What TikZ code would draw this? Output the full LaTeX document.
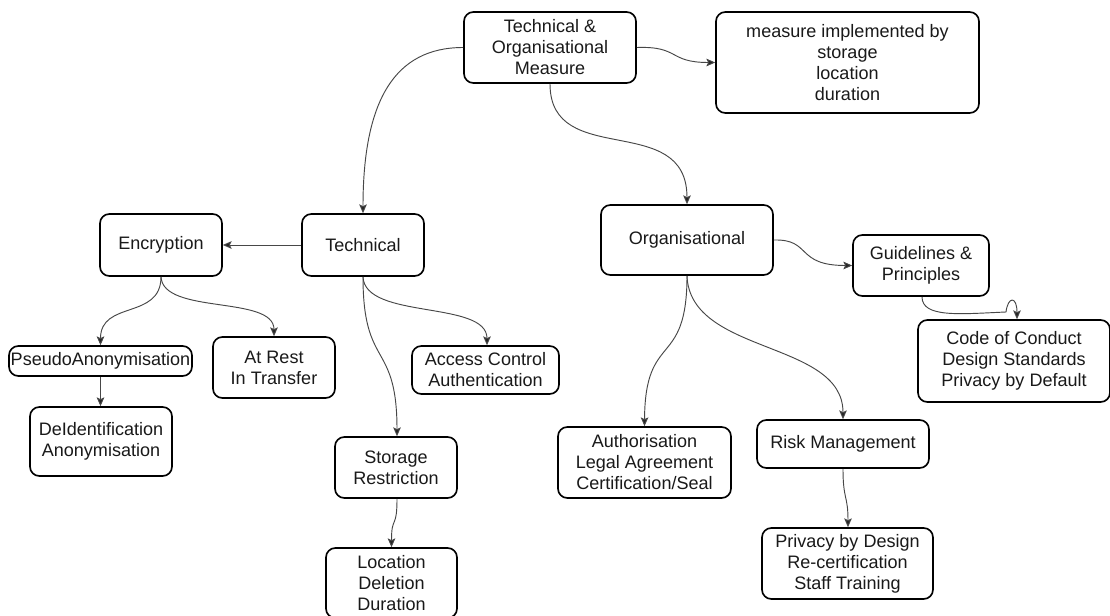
\documentclass[tikz,border=0pt]{standalone}
\usepackage{fontspec}
\setmainfont{Liberation Sans}
\usetikzlibrary{arrows.meta,calc}
\tikzset{
  bx/.style 2 args={draw=black, line width=1.4pt, rounded corners=8pt, fill=white,
    align=center, inner sep=0pt, text=black!90,
    font=\fontsize{15.4}{17.9}\selectfont,
    minimum width=#1*0.03cm, minimum height=#2*0.03cm},
  conn/.style={draw=black!72, line width=0.8pt,
    -{Stealth[length=7.5pt,width=6.5pt,inset=1.5pt,fill=black!85]}}
}
\begin{document}
\begin{tikzpicture}[x=0.03cm,y=-0.03cm]
\useasboundingbox (0,0) rectangle (1110,616);
\fill[white] (0,0) rectangle (1110,616);

\node[bx={172}{71}] (tom) at (550,47.5) {Technical \&\\Organisational\\Measure};
\node[bx={263}{101}] (meas) at (847.5,62.5) {measure implemented by\\storage\\location\\duration};
\node[bx={122}{62}] (tech) at (363,245) {Technical};
\node[bx={122}{62}] (enc) at (161,245) {Encryption};
\node[bx={172}{70}] (org) at (687,240) {Organisational};
\node[bx={136}{61}] (guide) at (921,265.5) {Guidelines \&\\Principles};
\node[bx={192}{82}] (code) at (1014,361) {Code of Conduct\\Design Standards\\Privacy by Default};
\node[bx={183}{30}] (pseudo) at (100.5,361) {PseudoAnonymisation};
\node[bx={122}{61}] (rest) at (274,367.5) {At Rest\\In Transfer};
\node[bx={147}{48}] (access) at (485.5,370) {Access Control\\Authentication};
\node[bx={142}{69}] (deid) at (101,441.5) {DeIdentification\\Anonymisation};
\node[bx={122}{61}] (stor) at (396,467.5) {Storage\\Restriction};
\node[bx={131}{70}] (loc) at (391.5,583) {Location\\Deletion\\Duration};
\node[bx={173}{71}] (auth) at (644.5,462.5) {Authorisation\\Legal Agreement\\Certification/Seal};
\node[bx={172}{48}] (risk) at (843,444) {Risk Management};
\node[bx={171}{71}] (priv) at (847.5,563.5) {Privacy by Design\\Re-certification\\Staff Training};

\draw[conn] (tom.west) .. controls (395,47.5) and (363,100) .. (tech.north);
\draw[conn] (tom.south) .. controls (550,170) and (687,110) .. (org.north);
\draw[conn] (tom.east) .. controls (680,46) and (668,62.5) .. (meas.west);
\draw[conn] (tech.west) -- (enc.east);
\draw[conn] (enc.south) .. controls (161,320) and (100.5,300) .. (pseudo.north);
\draw[conn] (enc.south) .. controls (163,315) and (274,295) .. (rest.north);
\draw[conn] (tech.south) .. controls (365,320) and (487,300) .. ($(access.north)+(1.5,0)$);
\draw[conn] (tech.south) .. controls (363,370) and (397,340) .. ($(stor.north)+(1,0)$);
\draw[conn] ($(stor.south)+(1,0)$) .. controls (397,530) and (391.5,515) .. (loc.north);
\draw[conn] (pseudo.south) -- (pseudo.south |- deid.north);
\draw[conn] (org.south) .. controls (687,370) and (645,330) .. (auth.north);
\draw[conn] (org.south) .. controls (690,355) and (843,340) .. (risk.north);
\draw[conn] (org.east) .. controls (812,239) and (795,265.5) .. (guide.west);
\draw[conn] ($(guide.south)+(1,0)$) .. controls (922,318) and (960,314) .. (1006,312)
  .. controls (1008,296) and (1017,296) .. ($(code.north)+(3,0)$);
\draw[conn] (risk.south) .. controls (843,500) and (848,495) .. ($(priv.north)+(0.5,0)$);
\end{tikzpicture}
\end{document}
